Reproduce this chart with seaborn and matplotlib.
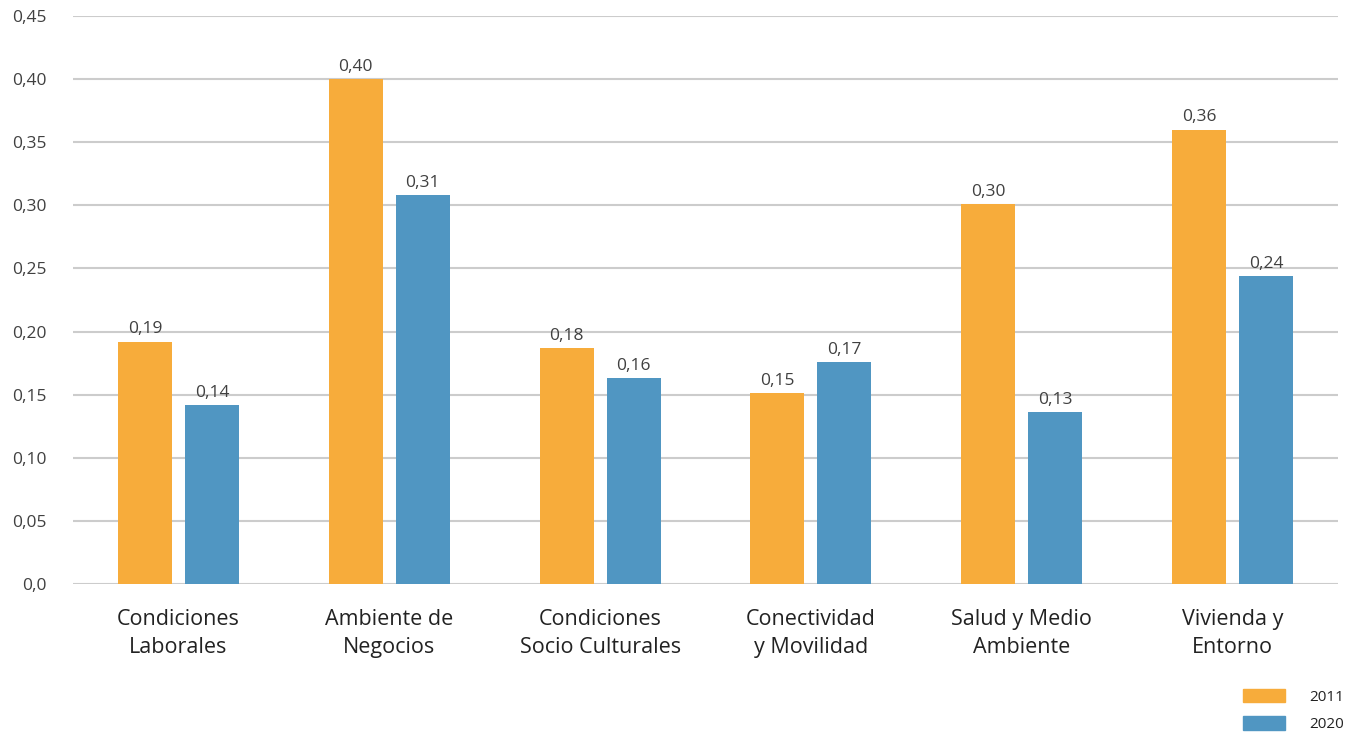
import matplotlib
matplotlib.use("Agg")
import matplotlib.pyplot as plt
import seaborn as sns
import pandas as pd

categories = ["Condiciones\nLaborales", "Ambiente de\nNegocios", "Condiciones\nSocio Culturales",
              "Conectividad\ny Movilidad", "Salud y Medio\nAmbiente", "Vivienda y\nEntorno"]
years = ["2011", "2020"]
values_2011 = [0.192, 0.400, 0.187, 0.151, 0.301, 0.360]
values_2020 = [0.142, 0.308, 0.163, 0.176, 0.136, 0.244]
labels_2011 = ["0,19", "0,40", "0,18", "0,15", "0,30", "0,36"]
labels_2020 = ["0,14", "0,31", "0,16", "0,17", "0,13", "0,24"]
yticks = [0, 0.05, 0.10, 0.15, 0.20, 0.25, 0.30, 0.35, 0.40, 0.45]
ytick_labels = ["0,0", "0,05", "0,10", "0,15", "0,20", "0,25", "0,30", "0,35", "0,40", "0,45"]
colors = ["#F7AC3B", "#5096C2"]

df = pd.DataFrame({
    "cat": categories * 2,
    "year": [years[0]] * 6 + [years[1]] * 6,
    "val": values_2011 + values_2020,
})

sns.set_theme(style="white")
plt.rcParams["font.family"] = ["Open Sans", "DejaVu Sans"]
text_color = "#404040"

fig = plt.figure(figsize=(13.47, 7.46), dpi=100)
ax = fig.add_axes([0.0542, 0.2172, 0.9391, 0.7614])

sns.barplot(data=df, x="cat", y="val", hue="year", palette=colors, width=0.635, gap=0.194,
            saturation=1, ax=ax, legend=True, zorder=3, linewidth=0, edgecolor="none")

ax.set_ylim(0, 0.45)
ax.set_xlim(-0.5, 5.5)
ax.set_yticks(yticks)
ax.set_yticklabels(ytick_labels, fontsize=12.5, color=text_color)
ax.yaxis.grid(True, color="#cccccc", linewidth=1.5, zorder=0)
ax.set_axisbelow(True)
for s in ax.spines.values():
    s.set_visible(False)
ax.tick_params(axis="y", length=0, pad=19)
ax.tick_params(axis="x", length=0, pad=18)
for t in ax.get_xticklabels():
    t.set_fontsize(15.5)
    t.set_color("#222222")
    t.set_linespacing(1.45)
ax.set_xlabel("")
ax.set_ylabel("")

for cont, labs in zip(ax.containers, [labels_2011, labels_2020]):
    ax.bar_label(cont, labels=labs, padding=3, fontsize=12.5, color=text_color)

leg = ax.get_legend()
leg.remove()
handles = [plt.Rectangle((0, 0), 1, 1, color=c) for c in colors]
fig.legend(handles, years, loc="lower right", bbox_to_anchor=(1.008, 0.0), frameon=False,
           fontsize=11, handlelength=2.7, handleheight=1.0, labelspacing=0.75,
           handletextpad=1.6, labelcolor="#222222")

fig.savefig("out.png", dpi=100)
